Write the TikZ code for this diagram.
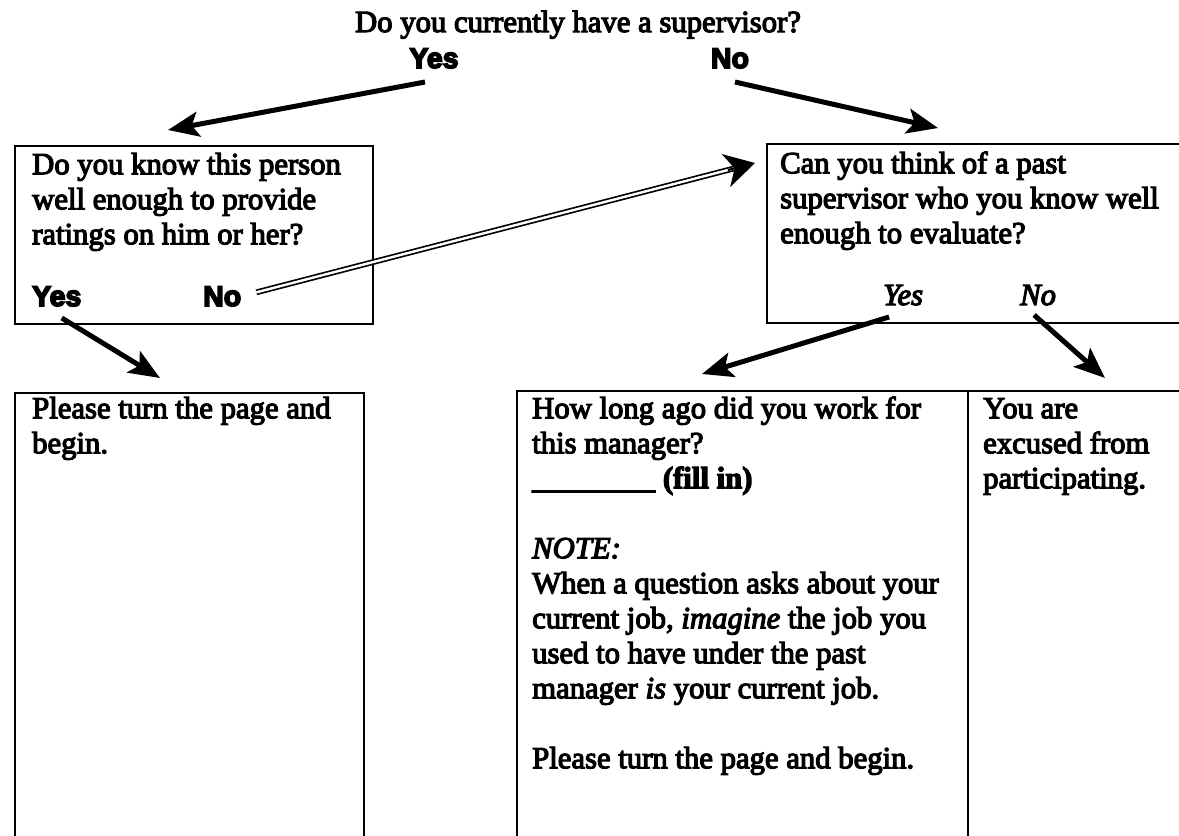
\documentclass[tikz,border=0pt]{standalone}
\usepackage{fontspec}
\setmainfont{Liberation Serif}
\newfontfamily\labelsans{Liberation Sans}
\usetikzlibrary{arrows.meta,calc}
\newcommand{\fl}{\rule{0pt}{28pt}}
\newcommand{\heavy}[1]{\special{pdf:literal direct 2 Tr #1 w}}
\begin{document}
\begin{tikzpicture}[x=1pt,y=-1pt,
  txt/.style={font=\heavy{1.2}\fontsize{30.7}{35}\selectfont, inner sep=0pt, anchor=north west, align=left},
  ttl/.style={font=\heavy{1.2}\fontsize{30.7}{35}\selectfont, inner sep=0pt, anchor=base},
  lbl/.style={font=\heavy{1.6}\labelsans\bfseries\fontsize{28.5}{30}\selectfont, inner sep=0pt},
  ilbl/.style={font=\heavy{1.2}\itshape\fontsize{30.7}{35}\selectfont, inner sep=0pt, anchor=base west},
  boxln/.style={draw, line width=2pt, inner sep=0pt, anchor=north west},
  heavyarrow/.style={line width=5pt, -{Stealth[length=31pt,width=25pt,inset=7pt]}},
  dbl/.style={line width=1.7pt, double, double distance=2.4pt},
]
\useasboundingbox (0,0) rectangle (1179,836);
\fill[white] (0,0) rectangle (1179,836);

% boxes
\node[boxln, minimum width=358pt, minimum height=178pt] (box1) at (14,145) {};
\node[boxln, minimum width=450pt, minimum height=179pt] (box2) at (766,143) {};
\node[boxln, minimum width=349pt, minimum height=520pt] (box3) at (14,392) {};
\node[boxln, minimum width=451pt, minimum height=520pt] (box4) at (516,390) {};
\node[boxln, minimum width=250pt, minimum height=520pt] (box5) at (967,390) {};

% title and top labels
\node[ttl] (title) at (578,32) {Do you currently have a supervisor?};
\node[lbl, anchor=base] (yesTop) at (434,68) {Yes};
\node[lbl, anchor=base] (noTop) at (730,68) {No};

% box texts
\node[txt] (t1) at (32,146) {\fl Do you know this person\\ well enough to provide\\ ratings on him or her?};
\node[lbl, anchor=base west] (yes1) at (32,306) {Yes};
\node[lbl, anchor=base west] (no1) at (203,306) {No};

\node[txt] (t2) at (780,145) {\fl Can you think of a past\\ supervisor who you know well\\ enough to evaluate?};
\node[ilbl] (yes2) at (883,305) {Yes};
\node[ilbl] (no2) at (1020,305) {No};

\node[txt] (t3) at (32,390) {\fl Please turn the page and\\ begin.};

\node[txt] (t4) at (532,390) {\fl How long ago did you work for\\
this manager?\\
\_\_\_\_\_\_\_\_ \textbf{(fill in)}\\[35pt]
\textit{NOTE:}\\
When a question asks about your\\
current job, \textit{imagine} the job you\\
used to have under the past\\
manager \textit{is} your current job.\\[35pt]
Please turn the page and begin.};

\node[txt] (t5) at (983,390) {\fl You are\\ excused from\\ participating.};

% arrow tip coordinates
\coordinate (tipYes) at (168,130);
\coordinate (tipNo) at (938,128);
\coordinate (tipD) at (755,163);
\coordinate (tipY1) at (160,378);
\coordinate (tipY2) at (702,374);
\coordinate (tipN2) at (1105,378);

% arrows
\draw[heavyarrow] ($(yesTop.base)+(-9,14)$) -- (tipYes);
\draw[heavyarrow] ($(noTop.base)+(5,14)$) -- (tipNo);
\draw[heavyarrow] ($(yes1.base)+(5,12)$) -- (tipY1);
\draw[heavyarrow] ($(yes2.base)+(-14,12)$) -- (tipY2);
\draw[heavyarrow] ($(no2.base)+(-4,10)$) -- (tipN2);

% double arrow
\draw[dbl, shorten >=22pt] ($(no1.east)+(15,-4)$) -- (tipD);
\draw[line width=2pt, -{Stealth[length=30pt,width=34pt,inset=9pt]}] ($(tipD)!28pt!(no1.east)$) -- (tipD);
\end{tikzpicture}
\end{document}
